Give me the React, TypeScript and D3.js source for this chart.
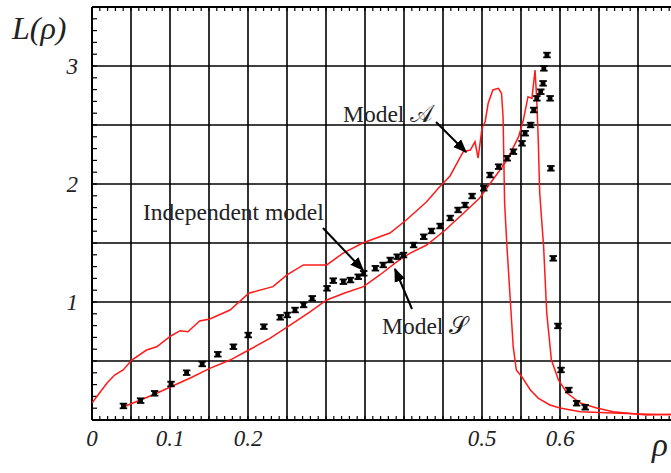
import React from "react";
import * as d3 from "d3";

// Model A (upper red curve): [rho, L]
const modelA: [number, number][] = [
  [0, 0.144], [0.006, 0.197], [0.019, 0.311], [0.029, 0.381], [0.04, 0.424], [0.051, 0.508],
  [0.07, 0.593], [0.083, 0.621], [0.101, 0.712], [0.113, 0.757], [0.123, 0.748], [0.138, 0.839],
  [0.151, 0.856], [0.177, 0.932], [0.201, 1.074], [0.232, 1.13], [0.25, 1.229], [0.271, 1.314],
  [0.301, 1.314], [0.322, 1.415], [0.347, 1.5], [0.382, 1.585], [0.403, 1.695], [0.429, 1.85],
  [0.444, 1.964], [0.459, 2.068], [0.476, 2.274], [0.485, 2.288], [0.491, 2.358], [0.495, 2.22],
  [0.5, 2.472], [0.504, 2.528], [0.508, 2.686], [0.514, 2.797], [0.521, 2.811], [0.525, 2.769],
  [0.527, 2.57], [0.529, 1.839], [0.532, 1.469], [0.536, 1.045], [0.54, 0.621], [0.544, 0.424],
  [0.551, 0.367], [0.562, 0.254], [0.572, 0.186], [0.587, 0.127], [0.6, 0.102], [0.626, 0.07],
  [0.668, 0.059], [0.703, 0.051], [0.75, 0.042],
];

// Model S (lower red curve)
const modelS: [number, number][] = [
  [0.04, 0.11], [0.062, 0.169], [0.081, 0.22], [0.101, 0.282], [0.126, 0.356], [0.151, 0.438],
  [0.177, 0.508], [0.201, 0.593], [0.228, 0.692], [0.254, 0.805], [0.279, 0.915], [0.301, 1.017],
  [0.324, 1.076], [0.348, 1.13], [0.369, 1.229], [0.391, 1.342], [0.408, 1.415], [0.429, 1.483],
  [0.453, 1.61], [0.478, 1.763], [0.497, 1.881], [0.506, 1.964], [0.523, 2.119], [0.532, 2.203],
  [0.547, 2.401], [0.553, 2.542], [0.559, 2.74], [0.564, 2.726], [0.568, 2.966], [0.57, 2.74],
  [0.572, 2.401], [0.574, 1.924], [0.579, 1.469], [0.583, 0.907], [0.589, 0.508], [0.598, 0.339],
  [0.609, 0.229], [0.626, 0.144], [0.647, 0.102], [0.668, 0.07], [0.711, 0.042], [0.75, 0.051],
];

// Independent model (black markers)
const independent: [number, number][] = [
  [0.04, 0.119], [0.062, 0.164], [0.08, 0.226], [0.101, 0.305], [0.121, 0.401], [0.141, 0.475],
  [0.161, 0.557], [0.181, 0.621], [0.2, 0.72], [0.22, 0.791], [0.241, 0.87], [0.25, 0.89],
  [0.26, 0.932], [0.271, 0.975], [0.282, 1.031], [0.301, 1.116], [0.309, 1.181], [0.322, 1.172],
  [0.331, 1.186], [0.341, 1.214], [0.348, 1.243], [0.363, 1.286], [0.373, 1.314], [0.382, 1.356],
  [0.391, 1.384], [0.399, 1.398], [0.412, 1.483], [0.425, 1.553], [0.435, 1.602], [0.446, 1.644],
  [0.459, 1.712], [0.469, 1.78], [0.478, 1.822], [0.487, 1.898], [0.502, 1.964], [0.51, 2.076],
  [0.521, 2.147], [0.532, 2.218], [0.54, 2.274], [0.551, 2.345], [0.555, 2.43], [0.562, 2.5],
  [0.566, 2.627], [0.57, 2.726], [0.575, 2.782], [0.578, 2.853], [0.579, 2.98], [0.583, 3.093],
  [0.587, 2.726], [0.588, 2.133], [0.591, 1.37], [0.597, 0.797], [0.601, 0.424], [0.611, 0.254],
  [0.621, 0.142], [0.632, 0.108],
];

const xTickLabels = [0, 0.1, 0.2, 0.5, 0.6];
const yTickLabels = [1, 2, 3];

const W = 671;
const H = 473;
const left = 92, top = 7, bottom = 420;

export default function App() {
  const x = d3.scaleLinear().domain([0, 0.1]).range([left, left + 78]);
  const y = d3.scaleLinear().domain([0, 3.5]).range([bottom, top]);
  const xMax = x.invert(W);

  const gridX = d3.range(0.05, xMax, 0.05);
  const gridY = d3.range(0.5, 3.5, 0.5);
  const minorX = d3.range(0.01, xMax, 0.01);
  const minorY = d3.range(0.1, 3.5, 0.1);

  const line = d3.line<[number, number]>().x(d => x(d[0])).y(d => y(d[1]));
  const font = "'Liberation Serif', 'Times New Roman', serif";

  return (
    <svg width={W} height={H} style={{ position: "absolute", left: 0, top: 0, background: "#fff" }}>
      <defs>
        <clipPath id="plot">
          <rect x={left} y={top} width={W - left} height={bottom - top} />
        </clipPath>
        <marker id="arrow" viewBox="0 0 10 10" refX="9" refY="5" markerWidth="7" markerHeight="7" orient="auto">
          <path d="M0,1 L10,5 L0,9 Z" fill="#000" />
        </marker>
      </defs>

      {/* grid */}
      {gridX.map((v, i) => (
        <line key={"gx" + i} x1={x(v)} x2={x(v)} y1={top} y2={bottom} stroke="#000" strokeWidth={1.6} />
      ))}
      {gridY.map((v, i) => (
        <line key={"gy" + i} x1={left} x2={W} y1={y(v)} y2={y(v)} stroke="#000" strokeWidth={1.6} />
      ))}

      {/* minor ticks */}
      {minorX.map((v, i) => (
        <g key={"mx" + i}>
          <line x1={x(v)} x2={x(v)} y1={bottom} y2={bottom - 4} stroke="#000" strokeWidth={1.2} />
          <line x1={x(v)} x2={x(v)} y1={top} y2={top + 4} stroke="#000" strokeWidth={1.2} />
        </g>
      ))}
      {minorY.map((v, i) => (
        <line key={"my" + i} x1={left} x2={left + 5} y1={y(v)} y2={y(v)} stroke="#000" strokeWidth={1.2} />
      ))}

      {/* frame */}
      <line x1={left} x2={W} y1={bottom} y2={bottom} stroke="#000" strokeWidth={2} />
      <line x1={left} x2={W} y1={top} y2={top} stroke="#000" strokeWidth={2} />
      <line x1={left} x2={left} y1={top} y2={bottom} stroke="#000" strokeWidth={2} />

      <g clipPath="url(#plot)">
        <path d={line(modelA) || ""} fill="none" stroke="#ff1a1a" strokeWidth={1.5} />
        <path d={line(modelS) || ""} fill="none" stroke="#ff1a1a" strokeWidth={1.5} />
        {independent.map((d, i) => {
          const cx = x(d[0]), cy = y(d[1]);
          return (
            <g key={"p" + i}>
              <rect x={cx - 3.5} y={cy - 3.2} width={7.5} height={1.8} fill="#000" />
              <rect x={cx - 3.5} y={cy + 1.4} width={7.5} height={1.8} fill="#000" />
              <rect x={cx - 2.2} y={cy - 2} width={4.8} height={4} fill="#000" />
            </g>
          );
        })}
      </g>

      {/* tick labels */}
      {xTickLabels.map((v, i) => (
        <text key={"xl" + i} x={x(v)} y={446} textAnchor="middle" fontFamily={font} fontStyle="italic" fontSize={23} fill="#222">
          {v === 0 ? "0" : String(v)}
        </text>
      ))}
      {yTickLabels.map((v, i) => (
        <text key={"yl" + i} x={78} y={y(v) + 8} textAnchor="end" fontFamily={font} fontStyle="italic" fontSize={23} fill="#222">
          {v}
        </text>
      ))}
      <text x={12} y={39} fontFamily={font} fontStyle="italic" fontSize={32} fill="#222">L(ρ)</text>
      <text x={652} y={456} fontFamily={font} fontStyle="italic" fontSize={33} fill="#222">ρ</text>

      {/* annotations */}
      <text x={343} y={122} fontFamily={font} fontSize={23.5} fill="#222">Model <tspan>𝒜</tspan></text>
      <line x1={436} y1={122} x2={466} y2={152} stroke="#000" strokeWidth={2} markerEnd="url(#arrow)" />
      <text x={143} y={220} fontFamily={font} fontSize={23.5} fill="#222">Independent model</text>
      <line x1={323} y1={228} x2={363} y2={270} stroke="#000" strokeWidth={2} markerEnd="url(#arrow)" />
      <text x={382} y={334} fontFamily={font} fontSize={23.5} fill="#222">Model <tspan>𝒮</tspan></text>
      <line x1={412} y1={309} x2={395} y2={269} stroke="#000" strokeWidth={2} markerEnd="url(#arrow)" />
    </svg>
  );
}
